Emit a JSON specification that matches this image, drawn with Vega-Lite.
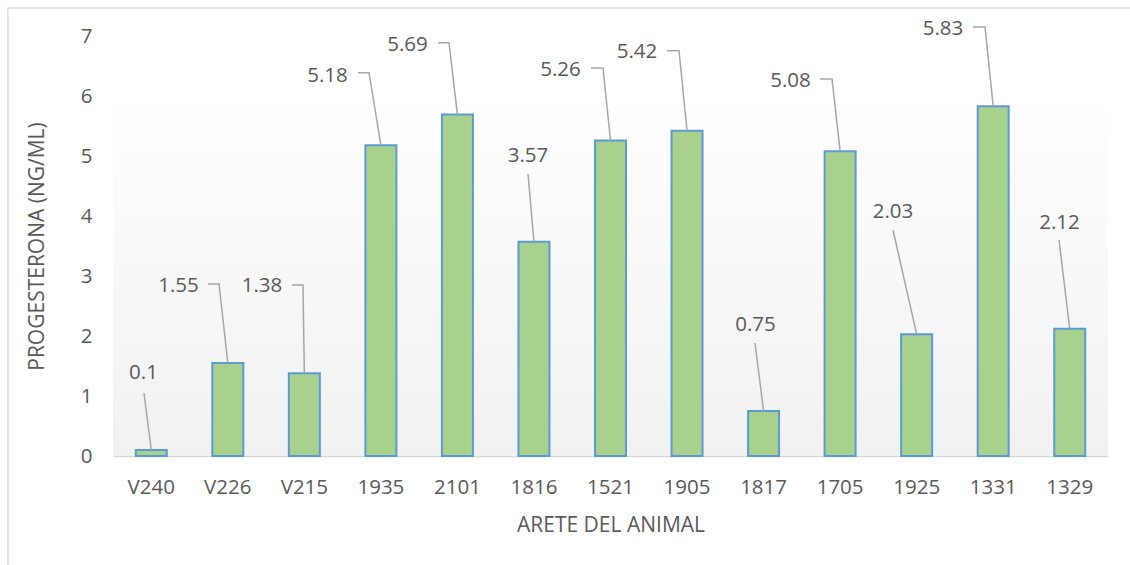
{
  "$schema": "https://vega.github.io/schema/vega-lite/v6.json",
  "width": 995,
  "height": 420,
  "autosize": {"type": "none"},
  "padding": {"left": 113, "top": 36, "right": 22, "bottom": 109},
  "background": "white",
  "config": {"view": {"stroke": null}, "font": "Open Sans"},
  "datasets": {
    "bars": [
      {"arete": "V240", "progesterona": 0.1, "label_x": 0.398, "label_y": 1.383},
      {"arete": "V226", "progesterona": 1.55, "label_x": 0.856, "label_y": 2.833},
      {"arete": "V215", "progesterona": 1.38, "label_x": 1.947, "label_y": 2.833},
      {"arete": "1935", "progesterona": 5.18, "label_x": 2.803, "label_y": 6.333},
      {"arete": "2101", "progesterona": 5.69, "label_x": 3.848, "label_y": 6.858},
      {"arete": "1816", "progesterona": 3.57, "label_x": 5.422, "label_y": 5.0},
      {"arete": "1521", "progesterona": 5.26, "label_x": 5.847, "label_y": 6.433},
      {"arete": "1905", "progesterona": 5.42, "label_x": 6.846, "label_y": 6.733},
      {"arete": "1817", "progesterona": 0.75, "label_x": 8.394, "label_y": 2.183},
      {"arete": "1705", "progesterona": 5.08, "label_x": 8.852, "label_y": 6.25},
      {"arete": "1925", "progesterona": 2.03, "label_x": 10.191, "label_y": 4.067},
      {"arete": "1331", "progesterona": 5.83, "label_x": 10.844, "label_y": 7.117},
      {"arete": "1329", "progesterona": 2.12, "label_x": 12.366, "label_y": 3.883}
    ],
    "leaders": [
      {"arete": "V240", "seq": 1, "lx": 0.405, "ly": 1.05},
      {"arete": "V240", "seq": 2, "lx": 0.5, "ly": 0.1},
      {"arete": "V226", "seq": 1, "lx": 1.241, "ly": 2.867},
      {"arete": "V226", "seq": 2, "lx": 1.385, "ly": 2.867},
      {"arete": "V226", "seq": 3, "lx": 1.5, "ly": 1.55},
      {"arete": "V215", "seq": 1, "lx": 2.339, "ly": 2.85},
      {"arete": "V215", "seq": 2, "lx": 2.482, "ly": 2.85},
      {"arete": "V215", "seq": 3, "lx": 2.5, "ly": 1.38},
      {"arete": "1935", "seq": 1, "lx": 3.201, "ly": 6.388},
      {"arete": "1935", "seq": 2, "lx": 3.345, "ly": 6.388},
      {"arete": "1935", "seq": 3, "lx": 3.5, "ly": 5.18},
      {"arete": "2101", "seq": 1, "lx": 4.246, "ly": 6.888},
      {"arete": "2101", "seq": 2, "lx": 4.39, "ly": 6.888},
      {"arete": "2101", "seq": 3, "lx": 4.5, "ly": 5.69},
      {"arete": "1816", "seq": 1, "lx": 5.422, "ly": 4.7},
      {"arete": "1816", "seq": 2, "lx": 5.5, "ly": 3.57},
      {"arete": "1521", "seq": 1, "lx": 6.245, "ly": 6.467},
      {"arete": "1521", "seq": 2, "lx": 6.402, "ly": 6.467},
      {"arete": "1521", "seq": 3, "lx": 6.5, "ly": 5.26},
      {"arete": "1905", "seq": 1, "lx": 7.238, "ly": 6.755},
      {"arete": "1905", "seq": 2, "lx": 7.395, "ly": 6.755},
      {"arete": "1905", "seq": 3, "lx": 7.5, "ly": 5.42},
      {"arete": "1817", "seq": 1, "lx": 8.388, "ly": 1.883},
      {"arete": "1817", "seq": 2, "lx": 8.5, "ly": 0.75},
      {"arete": "1705", "seq": 1, "lx": 9.237, "ly": 6.283},
      {"arete": "1705", "seq": 2, "lx": 9.394, "ly": 6.283},
      {"arete": "1705", "seq": 3, "lx": 9.5, "ly": 5.08},
      {"arete": "1925", "seq": 1, "lx": 10.191, "ly": 3.767},
      {"arete": "1925", "seq": 2, "lx": 10.5, "ly": 2.03},
      {"arete": "1331", "seq": 1, "lx": 11.236, "ly": 7.15},
      {"arete": "1331", "seq": 2, "lx": 11.393, "ly": 7.15},
      {"arete": "1331", "seq": 3, "lx": 11.5, "ly": 5.83},
      {"arete": "1329", "seq": 1, "lx": 12.36, "ly": 3.6},
      {"arete": "1329", "seq": 2, "lx": 12.5, "ly": 2.12}
    ]
  },
  "resolve": {"scale": {"x": "independent"}, "axis": {"x": "independent", "y": "independent"}},
  "layer": [
    {
      "data": {"values": [{}]},
      "mark": {"type": "rect", "filled": false, "stroke": "#d9d9d9", "strokeWidth": 1.3, "clip": false},
      "encoding": {
        "x": {"datum": -1.372, "type": "quantitative", "scale": {"domain": [0, 13], "nice": false, "zero": false}, "axis": null},
        "x2": {"datum": 14.8},
        "y": {"datum": 7.467, "type": "quantitative", "scale": {"domain": [0, 7], "nice": false}, "axis": null},
        "y2": {"datum": -2.5}
      }
    },
    {
      "data": {"values": [{}]},
      "mark": {
        "type": "rect",
        "fill": {"gradient": "linear", "x1": 0, "y1": 0, "x2": 0, "y2": 1,
          "stops": [{"offset": 0, "color": "#ffffff"}, {"offset": 1, "color": "#f1f1f1"}]}
      },
      "encoding": {
        "x": {"datum": 0, "type": "quantitative", "scale": {"domain": [0, 13], "nice": false, "zero": false}, "axis": null},
        "x2": {"datum": 13},
        "y": {"datum": 6.05, "type": "quantitative", "scale": {"domain": [0, 7], "nice": false}, "axis": null},
        "y2": {"datum": 0}
      }
    },
    {
      "data": {"name": "bars"},
      "mark": {"type": "bar", "fill": "#a9d18e", "stroke": "#5b9bd5", "strokeWidth": 2, "width": {"band": 0.405}},
      "encoding": {
        "x": {
          "field": "arete", "type": "nominal", "sort": null,
          "scale": {"paddingInner": 0, "paddingOuter": 0},
          "axis": {
            "title": "ARETE DEL ANIMAL", "labelAngle": 0, "ticks": false, "tickSize": 0,
            "domainColor": "#d9d9d9", "domainWidth": 1.5,
            "labelFontSize": 20.5, "labelColor": "#595959", "labelPadding": 21,
            "titleFontSize": 21, "titleFontWeight": "normal", "titleColor": "#595959", "titlePadding": 17
          }
        },
        "y": {
          "field": "progesterona", "type": "quantitative",
          "scale": {"domain": [0, 7], "nice": false},
          "axis": {
            "title": "PROGESTERONA (NG/ML)", "values": [0, 1, 2, 3, 4, 5, 6, 7],
            "grid": false, "domain": false, "ticks": false, "tickSize": 0,
            "labelFontSize": 20.5, "labelColor": "#595959", "labelPadding": 21,
            "titleFontSize": 21, "titleFontWeight": "normal", "titleColor": "#595959", "titlePadding": 33
          }
        }
      }
    },
    {
      "data": {"name": "leaders"},
      "mark": {"type": "line", "color": "#a6a6a6", "strokeWidth": 1.5, "clip": false},
      "encoding": {
        "x": {"field": "lx", "type": "quantitative", "scale": {"domain": [0, 13], "nice": false, "zero": false}, "axis": null},
        "y": {"field": "ly", "type": "quantitative", "scale": {"domain": [0, 7], "nice": false}, "axis": null},
        "detail": {"field": "arete"},
        "order": {"field": "seq"}
      }
    },
    {
      "data": {"name": "bars"},
      "mark": {"type": "text", "fontSize": 20.5, "color": "#595959", "align": "center", "baseline": "middle", "clip": false},
      "encoding": {
        "x": {"field": "label_x", "type": "quantitative", "scale": {"domain": [0, 13], "nice": false, "zero": false}, "axis": null},
        "y": {"field": "label_y", "type": "quantitative", "scale": {"domain": [0, 7], "nice": false}, "axis": null},
        "text": {"field": "progesterona", "type": "nominal"}
      }
    }
  ]
}
